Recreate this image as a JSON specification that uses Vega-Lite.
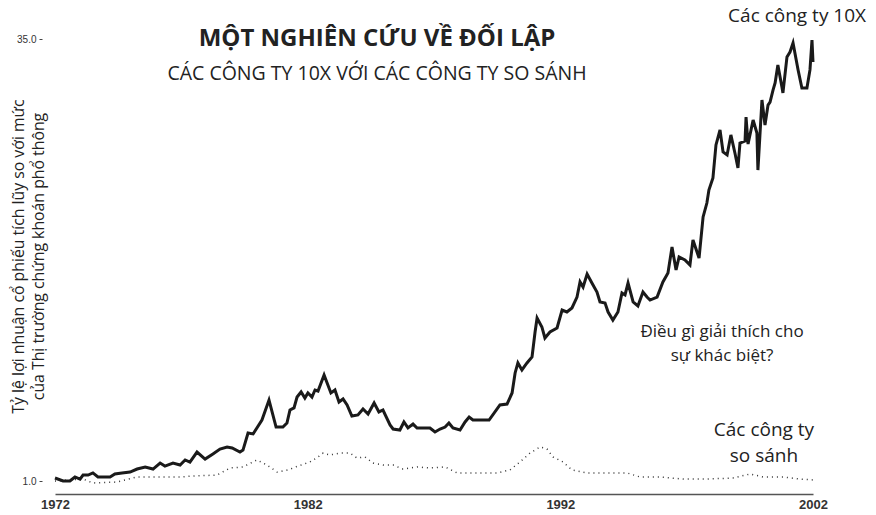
{
  "$schema": "https://vega.github.io/schema/vega-lite/v6.json",
  "width": 758,
  "height": 468,
  "autosize": {"type": "none"},
  "padding": {"left": 55, "top": 26, "right": 63, "bottom": 21},
  "background": "white",
  "title": {
    "text": "MỘT NGHIÊN CỨU VỀ ĐỐI LẬP",
    "subtitle": "CÁC CÔNG TY 10X VỚI CÁC CÔNG TY SO SÁNH",
    "anchor": "middle",
    "font": "Open Sans",
    "fontSize": 24,
    "fontWeight": "bold",
    "color": "#222222",
    "subtitleFont": "Open Sans",
    "subtitleFontSize": 19.5,
    "subtitleColor": "#222222",
    "subtitlePadding": 14,
    "offset": 0,
    "dx": -57,
    "dy": 76
  },
  "config": {
    "view": {"stroke": null},
    "axis": {"grid": false}
  },
  "datasets": {
    "tenx": [
      {"year": 1972.00, "value": 1.23}, {"year": 1972.32, "value": 1.00}, {"year": 1972.59, "value": 1.00},
      {"year": 1972.79, "value": 1.31}, {"year": 1972.99, "value": 1.15}, {"year": 1973.11, "value": 1.46},
      {"year": 1973.31, "value": 1.46}, {"year": 1973.50, "value": 1.62}, {"year": 1973.70, "value": 1.31},
      {"year": 1974.18, "value": 1.31}, {"year": 1974.37, "value": 1.54}, {"year": 1974.65, "value": 1.62},
      {"year": 1974.97, "value": 1.69}, {"year": 1975.25, "value": 1.92}, {"year": 1975.57, "value": 2.08},
      {"year": 1975.88, "value": 1.92}, {"year": 1976.16, "value": 2.38}, {"year": 1976.35, "value": 2.15},
      {"year": 1976.67, "value": 2.38}, {"year": 1976.95, "value": 2.23}, {"year": 1977.15, "value": 2.62},
      {"year": 1977.34, "value": 2.46}, {"year": 1977.62, "value": 3.23}, {"year": 1977.94, "value": 2.69},
      {"year": 1978.25, "value": 3.08}, {"year": 1978.53, "value": 3.46}, {"year": 1978.81, "value": 3.62},
      {"year": 1979.01, "value": 3.54}, {"year": 1979.32, "value": 3.23}, {"year": 1979.44, "value": 3.38},
      {"year": 1979.64, "value": 4.69}, {"year": 1979.84, "value": 4.62}, {"year": 1980.19, "value": 5.69},
      {"year": 1980.47, "value": 7.23}, {"year": 1980.75, "value": 5.15}, {"year": 1981.02, "value": 5.15},
      {"year": 1981.18, "value": 5.46}, {"year": 1981.30, "value": 6.46}, {"year": 1981.46, "value": 6.62},
      {"year": 1981.58, "value": 7.46}, {"year": 1981.74, "value": 7.85}, {"year": 1981.89, "value": 7.38},
      {"year": 1982.01, "value": 7.77}, {"year": 1982.17, "value": 7.46}, {"year": 1982.29, "value": 8.00},
      {"year": 1982.41, "value": 7.92}, {"year": 1982.65, "value": 9.15}, {"year": 1982.77, "value": 8.54},
      {"year": 1982.92, "value": 7.77}, {"year": 1983.08, "value": 8.00}, {"year": 1983.24, "value": 7.08},
      {"year": 1983.40, "value": 7.31}, {"year": 1983.56, "value": 6.85}, {"year": 1983.75, "value": 6.00},
      {"year": 1983.99, "value": 6.08}, {"year": 1984.19, "value": 6.54}, {"year": 1984.39, "value": 6.15},
      {"year": 1984.63, "value": 7.00}, {"year": 1984.82, "value": 6.31}, {"year": 1984.98, "value": 6.46},
      {"year": 1985.26, "value": 5.31}, {"year": 1985.38, "value": 5.00}, {"year": 1985.65, "value": 4.92},
      {"year": 1985.81, "value": 5.54}, {"year": 1985.97, "value": 5.08}, {"year": 1986.17, "value": 5.38},
      {"year": 1986.33, "value": 5.08}, {"year": 1986.84, "value": 5.08}, {"year": 1987.04, "value": 4.77},
      {"year": 1987.24, "value": 5.00}, {"year": 1987.44, "value": 5.15}, {"year": 1987.59, "value": 5.46},
      {"year": 1987.75, "value": 5.08}, {"year": 1988.03, "value": 4.92}, {"year": 1988.23, "value": 5.54},
      {"year": 1988.39, "value": 5.92}, {"year": 1988.54, "value": 5.69}, {"year": 1989.18, "value": 5.69},
      {"year": 1989.61, "value": 6.85}, {"year": 1989.89, "value": 6.92}, {"year": 1990.09, "value": 7.77},
      {"year": 1990.21, "value": 9.31}, {"year": 1990.32, "value": 10.08}, {"year": 1990.48, "value": 9.54},
      {"year": 1990.68, "value": 10.08}, {"year": 1990.88, "value": 10.54}, {"year": 1991.00, "value": 12.46},
      {"year": 1991.08, "value": 13.54}, {"year": 1991.27, "value": 12.85}, {"year": 1991.39, "value": 12.00},
      {"year": 1991.59, "value": 12.46}, {"year": 1991.87, "value": 12.77}, {"year": 1992.07, "value": 14.15},
      {"year": 1992.26, "value": 14.00}, {"year": 1992.46, "value": 14.31}, {"year": 1992.66, "value": 15.15},
      {"year": 1992.78, "value": 16.31}, {"year": 1992.90, "value": 15.92}, {"year": 1993.06, "value": 16.92},
      {"year": 1993.25, "value": 16.23}, {"year": 1993.45, "value": 15.54}, {"year": 1993.57, "value": 14.77},
      {"year": 1993.77, "value": 14.69}, {"year": 1993.89, "value": 14.00}, {"year": 1994.08, "value": 13.38},
      {"year": 1994.28, "value": 14.00}, {"year": 1994.44, "value": 15.46}, {"year": 1994.56, "value": 15.31},
      {"year": 1994.68, "value": 16.23}, {"year": 1994.88, "value": 14.77}, {"year": 1995.07, "value": 14.46},
      {"year": 1995.27, "value": 15.54}, {"year": 1995.43, "value": 15.15}, {"year": 1995.55, "value": 14.92},
      {"year": 1995.83, "value": 15.15}, {"year": 1996.06, "value": 16.31}, {"year": 1996.26, "value": 17.00},
      {"year": 1996.42, "value": 19.00}, {"year": 1996.58, "value": 17.23}, {"year": 1996.70, "value": 18.23},
      {"year": 1996.93, "value": 18.00}, {"year": 1997.13, "value": 17.62}, {"year": 1997.25, "value": 19.54},
      {"year": 1997.49, "value": 18.15}, {"year": 1997.65, "value": 21.31}, {"year": 1997.80, "value": 22.38},
      {"year": 1997.88, "value": 23.38}, {"year": 1998.04, "value": 24.31}, {"year": 1998.16, "value": 26.85},
      {"year": 1998.32, "value": 28.00}, {"year": 1998.44, "value": 26.31}, {"year": 1998.60, "value": 26.08},
      {"year": 1998.75, "value": 27.62}, {"year": 1998.91, "value": 26.23}, {"year": 1999.03, "value": 25.08},
      {"year": 1999.11, "value": 27.00}, {"year": 1999.31, "value": 27.15}, {"year": 1999.35, "value": 29.00},
      {"year": 1999.43, "value": 26.92}, {"year": 1999.63, "value": 28.77}, {"year": 1999.78, "value": 27.77},
      {"year": 1999.82, "value": 24.92}, {"year": 1999.98, "value": 30.31}, {"year": 2000.10, "value": 28.38},
      {"year": 2000.22, "value": 29.92}, {"year": 2000.30, "value": 30.15}, {"year": 2000.42, "value": 31.08},
      {"year": 2000.50, "value": 31.62}, {"year": 2000.61, "value": 33.00}, {"year": 2000.77, "value": 31.31},
      {"year": 2000.81, "value": 30.85}, {"year": 2000.97, "value": 33.62}, {"year": 2001.09, "value": 34.00},
      {"year": 2001.21, "value": 34.69}, {"year": 2001.41, "value": 32.62}, {"year": 2001.56, "value": 31.23},
      {"year": 2001.76, "value": 31.23}, {"year": 2001.88, "value": 32.62}, {"year": 2001.96, "value": 34.92},
      {"year": 2002.00, "value": 33.23}
    ],
    "comparison": [
      {"year": 1972.00, "value": 1.00}, {"year": 1973.11, "value": 1.15}, {"year": 1973.50, "value": 0.85},
      {"year": 1974.45, "value": 0.92}, {"year": 1975.25, "value": 1.31}, {"year": 1975.76, "value": 1.31},
      {"year": 1976.95, "value": 1.31}, {"year": 1977.46, "value": 1.38}, {"year": 1978.41, "value": 1.46},
      {"year": 1978.93, "value": 2.00}, {"year": 1979.44, "value": 2.08}, {"year": 1979.99, "value": 2.62},
      {"year": 1980.39, "value": 2.23}, {"year": 1980.79, "value": 1.69}, {"year": 1981.22, "value": 1.85},
      {"year": 1981.62, "value": 2.15}, {"year": 1982.09, "value": 2.46}, {"year": 1982.41, "value": 2.85},
      {"year": 1982.61, "value": 3.15}, {"year": 1982.88, "value": 3.00}, {"year": 1983.28, "value": 3.15},
      {"year": 1983.68, "value": 3.15}, {"year": 1983.95, "value": 2.77}, {"year": 1984.27, "value": 2.85},
      {"year": 1984.59, "value": 2.38}, {"year": 1984.98, "value": 2.23}, {"year": 1985.38, "value": 2.23},
      {"year": 1985.77, "value": 1.92}, {"year": 1986.33, "value": 2.08}, {"year": 1986.84, "value": 2.00},
      {"year": 1987.44, "value": 2.08}, {"year": 1987.91, "value": 1.62}, {"year": 1988.70, "value": 1.62},
      {"year": 1989.49, "value": 1.62}, {"year": 1990.01, "value": 1.85}, {"year": 1990.40, "value": 2.46},
      {"year": 1990.80, "value": 3.15}, {"year": 1991.20, "value": 3.62}, {"year": 1991.47, "value": 3.46},
      {"year": 1991.71, "value": 2.85}, {"year": 1992.11, "value": 2.46}, {"year": 1992.46, "value": 1.85},
      {"year": 1993.06, "value": 1.62}, {"year": 1993.57, "value": 1.62}, {"year": 1994.64, "value": 1.62},
      {"year": 1995.15, "value": 1.31}, {"year": 1995.94, "value": 1.31}, {"year": 1996.85, "value": 1.15},
      {"year": 1997.80, "value": 1.15}, {"year": 1998.83, "value": 1.23}, {"year": 1999.51, "value": 1.54},
      {"year": 2000.02, "value": 1.31}, {"year": 2000.81, "value": 1.31}, {"year": 2001.48, "value": 1.15},
      {"year": 2002.00, "value": 1.08}
    ],
    "notes": [
      {"year": 2001.37, "value": 36.3, "label": "Các công ty 10X"},
      {"year": 2000.06, "value": 4.5, "label": "Các công ty"},
      {"year": 2000.06, "value": 2.5, "label": "so sánh"}
    ],
    "question": [
      {"year": 1998.40, "value": 12.1, "label": "Điều gì giải thích cho"},
      {"year": 1998.40, "value": 10.2, "label": "sự khác biệt?"}
    ]
  },
  "layer": [
    {
      "data": {"name": "comparison"},
      "mark": {"type": "line", "color": "#333333", "strokeWidth": 1.5, "strokeDash": [1, 4]},
      "encoding": {
        "x": {
          "field": "year", "type": "quantitative",
          "scale": {"domain": [1972, 2002], "nice": false, "zero": false},
          "axis": {
            "title": null, "values": [1972, 1982, 1992, 2002], "format": "d",
            "ticks": false, "domainColor": "#555555", "domainWidth": 1.5,
            "labelFont": "Liberation Sans", "labelFontSize": 13, "labelFontWeight": "bold",
            "labelColor": "#333333", "labelPadding": 4, "labelFlush": false
          }
        },
        "y": {
          "field": "value", "type": "quantitative",
          "scale": {"domain": [0, 36], "nice": false, "zero": false},
          "axis": {
            "values": [1, 35], "format": ".1f", "domain": false, "offset": 13,
            "tickSize": 3, "tickColor": "#444444", "labelPadding": 3,
            "labelFont": "Liberation Sans", "labelFontSize": 10, "labelColor": "#333333",
            "title": ["Tỷ lệ lợi nhuận cổ phiếu tích lũy so với mức", "của Thị trường chứng khoán phổ thông"],
            "titleFont": "Open Sans", "titleFontSize": 15.8, "titleFontWeight": "normal", "titleColor": "#222222",
            "titleAngle": -90, "titleAlign": "center", "titleBaseline": "top", "titleLineHeight": 20,
            "titleX": -31, "titleY": 230
          }
        }
      }
    },
    {
      "data": {"name": "tenx"},
      "mark": {"type": "line", "color": "#1a1a1a", "strokeWidth": 3, "strokeJoin": "miter"},
      "encoding": {
        "x": {"field": "year", "type": "quantitative"},
        "y": {"field": "value", "type": "quantitative"}
      }
    },
    {
      "data": {"name": "notes"},
      "mark": {"type": "text", "font": "Open Sans", "fontSize": 19, "color": "#222222", "align": "center", "baseline": "alphabetic"},
      "encoding": {
        "x": {"field": "year", "type": "quantitative"},
        "y": {"field": "value", "type": "quantitative"},
        "text": {"field": "label"}
      }
    },
    {
      "data": {"name": "question"},
      "mark": {"type": "text", "font": "Open Sans", "fontSize": 17, "color": "#222222", "align": "center", "baseline": "alphabetic"},
      "encoding": {
        "x": {"field": "year", "type": "quantitative"},
        "y": {"field": "value", "type": "quantitative"},
        "text": {"field": "label"}
      }
    }
  ]
}
